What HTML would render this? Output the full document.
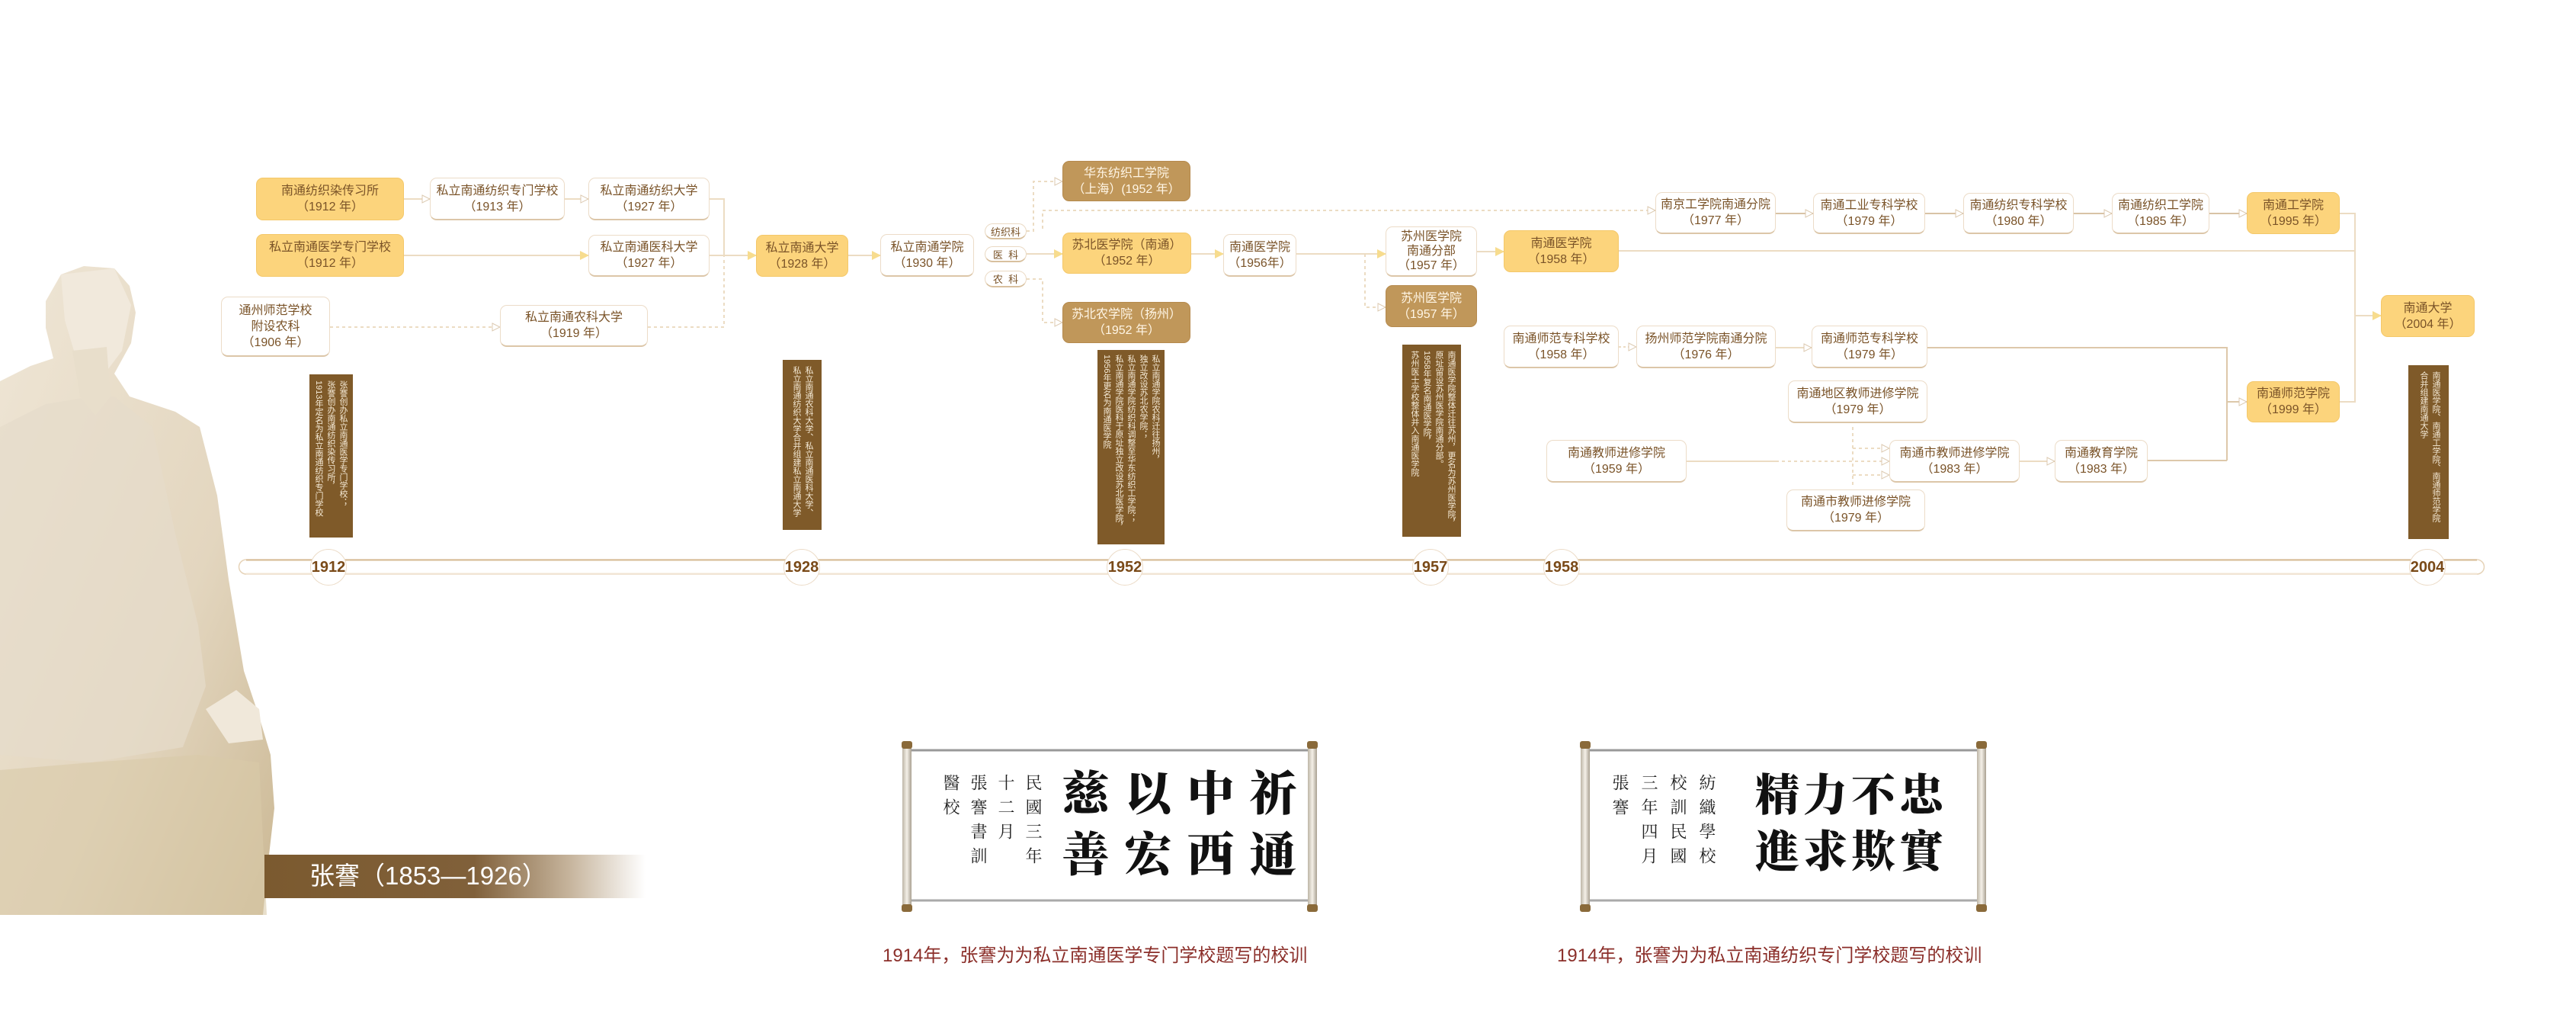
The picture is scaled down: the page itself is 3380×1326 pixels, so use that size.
<!DOCTYPE html>
<html><head><meta charset="utf-8">
<style>
html,body{margin:0;padding:0;}
body{width:3380px;height:1326px;position:relative;background:#fff;overflow:hidden;font-family:"Liberation Sans","Noto Sans CJK SC",sans-serif;}
.b{position:absolute;box-sizing:border-box;border-radius:9px;display:flex;flex-direction:column;align-items:center;justify-content:center;font-size:16px;line-height:21px;color:#7a5328;text-align:center;white-space:nowrap;}
.y{background:#fcd47c;border:1px solid #f4c86a;}
.w{background:#fff;border:1px solid #ecdcc8;border-bottom:2px solid #dcc6a8;}
.br{background:#c0975a;border:1px solid #b58a4e;color:#fff6e6;}
.p{position:absolute;box-sizing:border-box;border:1px solid #ead9c3;border-bottom:2px solid #d8c09e;border-radius:11px;background:#fff;font-size:13px;color:#7a5328;display:flex;align-items:center;justify-content:center;}
.d{position:absolute;box-sizing:border-box;background:#7f5a29;color:#f5ead6;font-size:11px;line-height:16px;writing-mode:vertical-rl;padding:8px 4px;white-space:nowrap;overflow:hidden;}
.yr{position:absolute;width:48px;height:48px;border-radius:50%;background:#fff;border:1px solid #ecdcc8;box-sizing:border-box;display:flex;align-items:center;justify-content:center;font-weight:bold;font-size:20px;color:#7a4a18;}
.big{position:absolute;writing-mode:vertical-rl;font-family:"Noto Serif CJK SC","Noto Sans CJK SC",serif;font-weight:900;color:#111;font-size:62px;line-height:80px;letter-spacing:18px;white-space:nowrap;}
.sm{position:absolute;writing-mode:vertical-rl;font-family:"Noto Serif CJK SC","Noto Sans CJK SC",serif;color:#222;font-size:22px;line-height:38px;letter-spacing:10px;white-space:nowrap;}
.cap{position:absolute;color:#8b2f2a;font-size:24px;white-space:nowrap;}
</style></head><body>

<svg style="position:absolute;left:0;top:0" width="420" height="1326">
<defs>
<linearGradient id="st" x1="0" y1="0" x2="1" y2="1"><stop offset="0" stop-color="#efe6d6"/><stop offset="0.6" stop-color="#e3d6bf"/><stop offset="1" stop-color="#cbb894"/></linearGradient>
</defs>
<path d="M0,500 L40,480 L70,470 L60,430 L60,395 L80,360 L110,349 L150,352 L170,375 L178,410 L172,450 L150,490 L170,520 L230,540 L262,560 L285,650 L300,760 L320,880 L340,940 L355,990 L360,1060 L352,1130 L345,1200 L0,1200 Z" fill="url(#st)"/>
<path d="M0,560 L60,530 L120,520 L150,520 L200,560 L230,700 L260,820 L270,900 L240,980 L120,1000 L0,990 Z" fill="#e6dccb" opacity="0.7"/>
<path d="M80,360 L150,352 L172,400 L160,460 L130,500 L100,470 L85,420 Z" fill="#f1e9dc"/>
<path d="M95,460 L140,455 L145,520 L125,545 L105,520 Z" fill="#e8decb"/>
<path d="M270,930 L310,905 L340,930 L345,970 L300,975 Z" fill="#f0e8da"/>
<path d="M0,1010 L120,1000 L260,990 L340,1000 L350,1200 L0,1200 Z" fill="#d9c9a9" opacity="0.6"/>
</svg>
<div style="position:absolute;left:347px;top:1121px;width:500px;height:57px;background:linear-gradient(to right,#7b5a2f 0%,#80603a 55%,rgba(160,130,90,0.6) 80%,rgba(255,255,255,0) 100%);"></div>
<div style="position:absolute;left:406px;top:1126px;color:#fff;font-size:33px;line-height:46px;white-space:nowrap;">张謇（1853—1926）</div>

<svg style="position:absolute;left:0;top:0" width="3380" height="1326">
<defs>
<marker id="a" markerWidth="12" markerHeight="12" refX="11" refY="6" orient="auto" markerUnits="userSpaceOnUse"><path d="M0,0 L12,6 L0,12 Z" fill="#f7dc8e"/></marker>
<marker id="o" markerWidth="12" markerHeight="12" refX="11" refY="6" orient="auto" markerUnits="userSpaceOnUse"><path d="M1,1 L11,6 L1,11 Z" fill="#fff" stroke="#dcc9b0" stroke-width="1"/></marker>
</defs>
<g fill="none" stroke="#ecdcc3" stroke-width="2">
<path d="M530,261 H564" marker-end="url(#o)"/>
<path d="M741,261 H772" marker-end="url(#o)"/>
<path d="M931,261 H950 V335"/>
<path d="M530,335 H772" marker-end="url(#a)"/>
<path d="M931,335 H992" marker-end="url(#a)"/>
<path d="M1113,335 H1155" marker-end="url(#a)"/>
<path d="M433,429 H656" stroke-dasharray="4,4" marker-end="url(#o)"/>
<path d="M850,429 H950 V335" stroke-dasharray="4,4"/>
<path d="M1347,303 H1356 V238 H1394" stroke-dasharray="4,4" marker-end="url(#o)"/>
<path d="M1368,300 V276 H2172" stroke-dasharray="4,4" marker-end="url(#o)"/>
<path d="M1347,333 H1394" marker-end="url(#a)"/>
<path d="M1347,366 H1368 V423 H1394" stroke-dasharray="4,4" marker-end="url(#o)"/>
<path d="M1563,333 H1605" marker-end="url(#a)"/>
<path d="M1701,333 H1818" marker-end="url(#a)"/>
<path d="M1791,333 V403 H1818" stroke-dasharray="4,4" marker-end="url(#o)"/>
<path d="M1938,330 H1973" marker-end="url(#a)"/>
<path d="M2124,329 H3090"/>
<path d="M2330,280 H2379" stroke="#d8c3a6" marker-end="url(#o)"/>
<path d="M2526,280 H2576" stroke="#d8c3a6" marker-end="url(#o)"/>
<path d="M2721,280 H2771" stroke="#d8c3a6" marker-end="url(#o)"/>
<path d="M2899,280 H2948" stroke="#d8c3a6" marker-end="url(#o)"/>
<path d="M3070,280 H3090 V527 H3070"/>
<path d="M3090,414 H3124" marker-end="url(#a)"/>
<path d="M2124,455 H2147" stroke-dasharray="3,3" marker-end="url(#o)"/>
<path d="M2330,456 H2377" marker-end="url(#o)"/>
<path d="M2529,456 H2922 V604" stroke="#ddc8aa"/>
<path d="M2922,527 H2948" stroke="#ddc8aa" marker-end="url(#o)"/>
<path d="M2431,560 V640" stroke-dasharray="4,4"/>
<path d="M2431,588 H2479" stroke-dasharray="4,4" marker-end="url(#o)"/>
<path d="M2431,623 H2479" stroke-dasharray="4,4" marker-end="url(#o)"/>
<path d="M2213,605 H2330"/>
<path d="M2330,605 H2479" stroke-dasharray="4,4" marker-end="url(#o)"/>
<path d="M2650,605 H2696" marker-end="url(#o)"/>
<path d="M2818,604 H2922" stroke="#ddc8aa"/>
</g>
<rect x="314" y="734" width="2946" height="19" rx="9.5" fill="#fff" stroke="none"/>
<path d="M323,734 H3250 A9.5,9.5 0 0 1 3250,753 H323 A9.5,9.5 0 0 1 323,734" fill="none" stroke="#e6d3b8" stroke-width="1.5"/>
<line x1="323" y1="734.5" x2="3250" y2="734.5" stroke="#d7bc96" stroke-width="2"/>
<line x1="323" y1="752.5" x2="3250" y2="752.5" stroke="#f1e4d3" stroke-width="2"/>
</svg>

<div class="yr" style="left:407px;top:720px">1912</div>
<div class="yr" style="left:1028px;top:720px">1928</div>
<div class="yr" style="left:1452px;top:720px">1952</div>
<div class="yr" style="left:1853px;top:720px">1957</div>
<div class="yr" style="left:2025px;top:720px">1958</div>
<div class="yr" style="left:3161px;top:720px">2004</div>

<div class="b y" style="left:336px;top:233px;width:194px;height:56px">南通纺织染传习所<br>（1912 年）</div>
<div class="b w" style="left:564px;top:233px;width:177px;height:56px">私立南通纺织专门学校<br>（1913 年）</div>
<div class="b w" style="left:772px;top:233px;width:159px;height:56px">私立南通纺织大学<br>（1927 年）</div>
<div class="b y" style="left:336px;top:307px;width:194px;height:56px">私立南通医学专门学校<br>（1912 年）</div>
<div class="b w" style="left:772px;top:308px;width:159px;height:55px">私立南通医科大学<br>（1927 年）</div>
<div class="b w" style="left:290px;top:389px;width:143px;height:79px">通州师范学校<br>附设农科<br>（1906 年）</div>
<div class="b w" style="left:656px;top:400px;width:194px;height:55px">私立南通农科大学<br>（1919 年）</div>
<div class="b y" style="left:992px;top:308px;width:121px;height:55px">私立南通大学<br>（1928 年）</div>
<div class="b w" style="left:1155px;top:307px;width:123px;height:56px">私立南通学院<br>（1930 年）</div>
<div class="p" style="left:1292px;top:293px;width:55px;height:21px">纺织科</div>
<div class="p" style="left:1292px;top:323px;width:55px;height:21px">医&nbsp;&nbsp;科</div>
<div class="p" style="left:1292px;top:355px;width:55px;height:22px">农&nbsp;&nbsp;科</div>
<div class="b br" style="left:1394px;top:211px;width:168px;height:53px">华东纺织工学院<br>（上海）(1952 年）</div>
<div class="b y" style="left:1394px;top:305px;width:169px;height:54px">苏北医学院（南通）<br>（1952 年）</div>
<div class="b br" style="left:1394px;top:396px;width:168px;height:54px">苏北农学院（扬州）<br>（1952 年）</div>
<div class="b w" style="left:1605px;top:307px;width:96px;height:56px">南通医学院<br>（1956年）</div>
<div class="b w" style="left:1818px;top:297px;width:120px;height:66px;line-height:19px">苏州医学院<br>南通分部<br>（1957 年）</div>
<div class="b br" style="left:1818px;top:374px;width:120px;height:55px">苏州医学院<br>（1957 年）</div>
<div class="b y" style="left:1973px;top:302px;width:151px;height:55px">南通医学院<br>（1958 年）</div>
<div class="b w" style="left:2172px;top:252px;width:158px;height:55px">南京工学院南通分院<br>（1977 年）</div>
<div class="b w" style="left:2379px;top:253px;width:147px;height:54px">南通工业专科学校<br>（1979 年）</div>
<div class="b w" style="left:2576px;top:253px;width:145px;height:54px">南通纺织专科学校<br>（1980 年）</div>
<div class="b w" style="left:2771px;top:253px;width:128px;height:54px">南通纺织工学院<br>（1985 年）</div>
<div class="b y" style="left:2948px;top:252px;width:122px;height:55px">南通工学院<br>（1995 年）</div>
<div class="b y" style="left:3124px;top:387px;width:123px;height:55px">南通大学<br>（2004 年）</div>
<div class="b w" style="left:1973px;top:427px;width:151px;height:56px">南通师范专科学校<br>（1958 年）</div>
<div class="b w" style="left:2147px;top:427px;width:183px;height:56px">扬州师范学院南通分院<br>（1976 年）</div>
<div class="b w" style="left:2377px;top:427px;width:152px;height:56px">南通师范专科学校<br>（1979 年）</div>
<div class="b w" style="left:2346px;top:499px;width:183px;height:56px">南通地区教师进修学院<br>（1979 年）</div>
<div class="b w" style="left:2029px;top:577px;width:184px;height:56px">南通教师进修学院<br>（1959 年）</div>
<div class="b w" style="left:2479px;top:577px;width:171px;height:56px">南通市教师进修学院<br>（1983 年）</div>
<div class="b w" style="left:2696px;top:577px;width:122px;height:56px">南通教育学院<br>（1983 年）</div>
<div class="b w" style="left:2344px;top:642px;width:182px;height:55px">南通市教师进修学院<br>（1979 年）</div>
<div class="b y" style="left:2948px;top:500px;width:122px;height:54px">南通师范学院<br>（1999 年）</div>

<div class="d" style="left:406px;top:491px;width:57px;height:214px;padding:8px 5px;">张謇创办私立南通医学专门学校；<br>张謇创办南通纺织染传习所，<br>1913年定名为私立南通纺织专门学校</div>
<div class="d" style="left:1027px;top:472px;width:51px;height:223px;padding:8px 9px;">私立南通农科大学、私立南通医科大学、<br>私立南通纺织大学合并组建私立南通大学</div>
<div class="d" style="left:1440px;top:459px;width:88px;height:255px;padding:6px 4px;">私立南通学院农科迁往扬州，<br>独立改设苏北农学院；<br>私立南通学院纺织科调整至华东纺织工学院；<br>私立南通学院医科于原址独立改设苏北医学院，<br>1956年更名为南通医学院</div>
<div class="d" style="left:1840px;top:452px;width:77px;height:252px;padding:8px 5px;">南通医学院整体迁往苏州，更名为苏州医学院，<br>原址留设苏州医学院南通分部。<br>1958年复名南通医学院，<br>苏州医士学校整体并入南通医学院</div>
<div class="d" style="left:3160px;top:479px;width:53px;height:228px;padding:8px 9px;">南通医学院、南通工学院、南通师范学院<br>合并组建南通大学</div>

<svg style="position:absolute;left:0;top:0" width="3380" height="1326">
<defs>
<linearGradient id="rl" x1="0" x2="1"><stop offset="0" stop-color="#bdb5a6"/><stop offset="0.5" stop-color="#f4f0e8"/><stop offset="1" stop-color="#a9a091"/></linearGradient>
</defs>
<g>
<rect x="1195" y="983" width="522" height="199" fill="#fff" stroke="#c8c8c8" stroke-width="1"/>
<line x1="1195" y1="984" x2="1717" y2="984" stroke="#999" stroke-width="3"/>
<line x1="1195" y1="1181" x2="1717" y2="1181" stroke="#aaa" stroke-width="3"/>
<rect x="1184" y="980" width="12" height="208" fill="url(#rl)"/>
<rect x="1716" y="980" width="12" height="208" fill="url(#rl)"/>
<rect x="1183" y="972" width="14" height="10" rx="3" fill="#8a6a3a"/><rect x="1183" y="1186" width="14" height="10" rx="3" fill="#8a6a3a"/>
<rect x="1715" y="972" width="14" height="10" rx="3" fill="#8a6a3a"/><rect x="1715" y="1186" width="14" height="10" rx="3" fill="#8a6a3a"/>

<rect x="2085" y="983" width="510" height="199" fill="#fff" stroke="#c8c8c8" stroke-width="1"/>
<line x1="2085" y1="984" x2="2595" y2="984" stroke="#999" stroke-width="3"/>
<line x1="2085" y1="1181" x2="2595" y2="1181" stroke="#aaa" stroke-width="3"/>
<rect x="2074" y="980" width="12" height="208" fill="url(#rl)"/>
<rect x="2594" y="980" width="12" height="208" fill="url(#rl)"/>
<rect x="2073" y="972" width="14" height="10" rx="3" fill="#8a6a3a"/><rect x="2073" y="1186" width="14" height="10" rx="3" fill="#8a6a3a"/>
<rect x="2593" y="972" width="14" height="10" rx="3" fill="#8a6a3a"/><rect x="2593" y="1186" width="14" height="10" rx="3" fill="#8a6a3a"/>
</g>
</svg>
<div class="big" style="left:1383px;top:1008px;line-height:82px;">祈通<br>中西<br>以宏<br>慈善</div>
<div class="sm" style="left:1230px;top:1015px;line-height:36px;">民國三年<br>十二月<br>張謇書訓<br>醫校</div>

<div class="big" style="left:2300px;top:1012px;font-size:58px;line-height:63px;letter-spacing:16px;">忠實<br>不欺<br>力求<br>精進</div>
<div class="sm" style="left:2107px;top:1015px;">紡織學校<br>校訓民國<br>三年四月<br>張謇</div>

<div class="cap" style="left:1158px;top:1233px;">1914年，张謇为为私立南通医学专门学校题写的校训</div>
<div class="cap" style="left:2043px;top:1233px;">1914年，张謇为为私立南通纺织专门学校题写的校训</div>

</body></html>
